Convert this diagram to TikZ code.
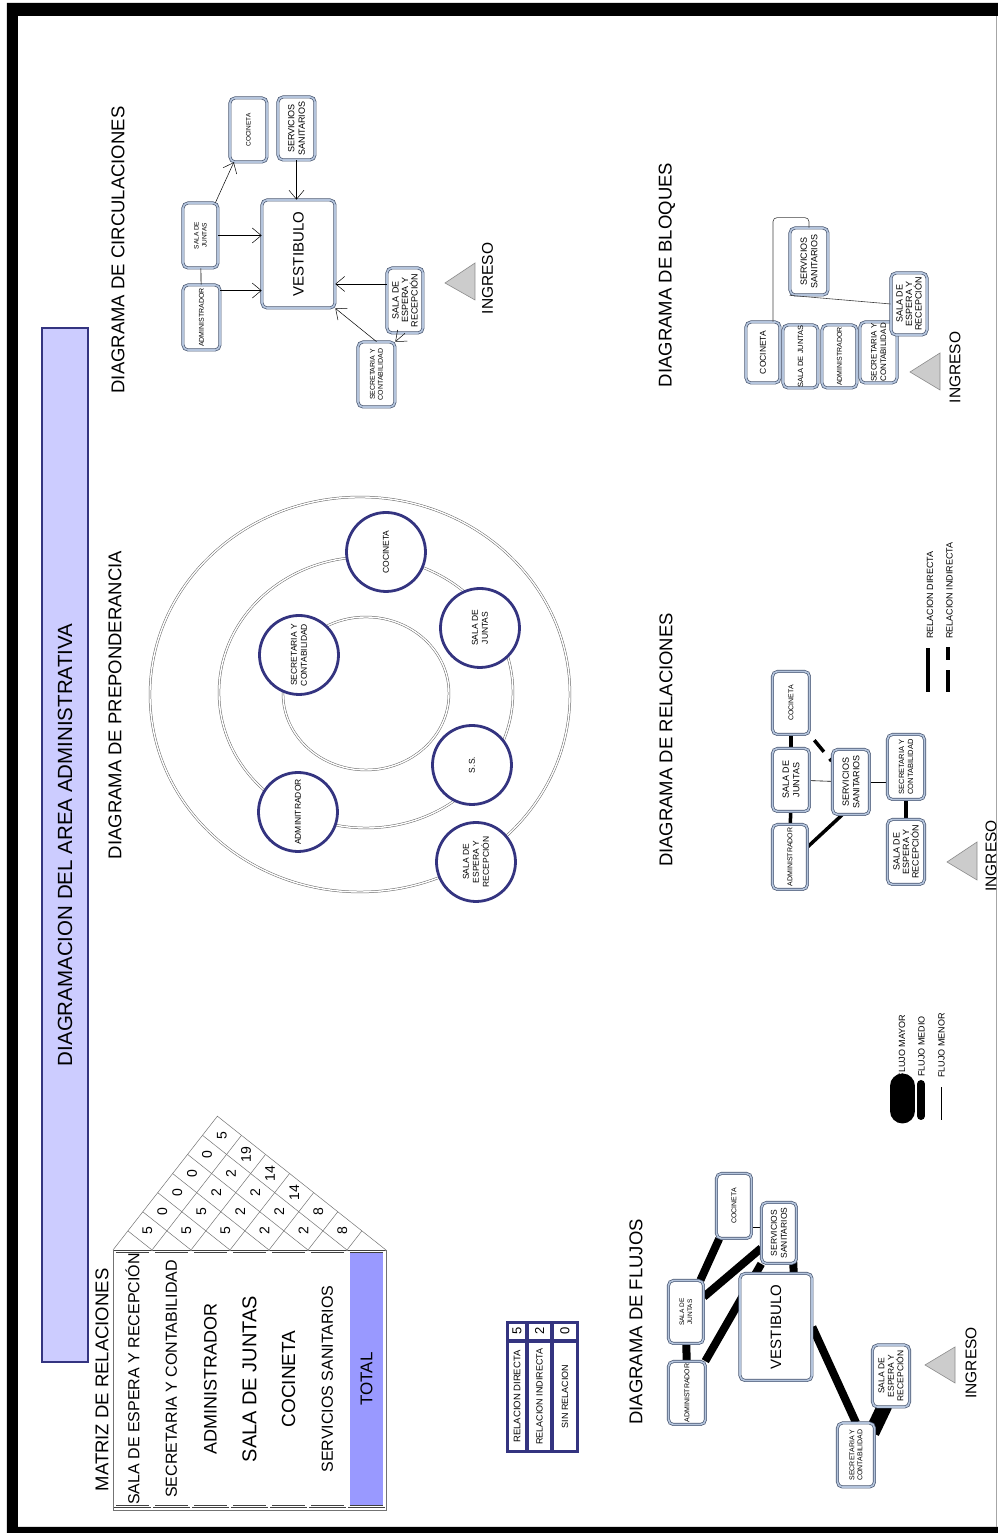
\documentclass[tikz,border=0pt]{standalone}
\usepackage{fontspec}
\setmainfont{Liberation Sans}
\usetikzlibrary{arrows.meta,calc}
\pgfdeclarelayer{fondo}
\pgfsetlayers{fondo,main}
\definecolor{azulosc}{RGB}{52,52,128}
\definecolor{lila}{RGB}{204,204,255}
\definecolor{lilatotal}{RGB}{153,153,255}
\definecolor{bordecaja}{RGB}{72,86,112}
\definecolor{bandacaja}{RGB}{180,196,220}
\newcommand{\tam}[2]{\fontsize{#1}{#2}\selectfont}

\begin{document}
\begin{tikzpicture}[x=1pt, y=1pt, rotate=90, transform shape,
    caja/.style 2 args={draw=bordecaja, double=bandacaja, double distance=1.6pt, line width=0.7pt, rounded corners=5pt, fill=white, align=center, inner sep=0pt, minimum width=#1, minimum height=#2},
    franja/.style={draw=black!75, double=white, double distance=1.2pt, line width=0.5pt, fill=white, minimum width=255pt, minimum height=35pt, inner sep=0pt},
    celda/.style 2 args={draw=azulosc, line width=0.6pt, fill=white, inner sep=0pt, minimum width=#1, minimum height=#2},
    circulo/.style={circle, draw=azulosc, line width=2.8pt, fill=white, minimum size=79pt, inner sep=0pt, align=center, font=\tam{8.5}{10}},
    titulo/.style={font=\tam{18.5}{20}},
    numero/.style={font=\tam{14}{14}, inner sep=0pt},
    reja/.style={black!55, line width=0.5pt},
    anillo/.style={draw=black!60, double=white, double distance=1.4pt, line width=0.5pt},
    ingreso/.style={fill=black!20, draw=black!45, line width=0.6pt},
    ingtxt/.style={font=\tam{15.5}{16}},
    flujo/.style={line width=8pt},
    directa/.style={line width=3.5pt},
    flecha/.style={-{Straight Barb[length=9pt,width=15pt]}, line width=0.5pt},
    bloque/.style={black!75, line width=0.6pt, rounded corners=4pt},
    leyenda/.style={anchor=west, inner sep=0pt, font=\tam{9}{10}}]
    \useasboundingbox (0,0) rectangle (1533,997);
    \fill[even odd rule] (0,-1) rectangle (1530,990) (6,-1) rectangle (1517,979);
    \draw[black!35, line width=0.8pt] (6,0.5) -- (1517,0.5);

    \node[draw=azulosc, fill=lila, line width=1.5pt, minimum width=1034pt, minimum height=46pt, font=\tam{20.5}{22}] (titulo) at (688,932) {DIAGRAMACION DEL AREA ADMINISTRATIVA};

    \node[titulo] (tmatriz) at (153,895) {MATRIZ DE RELACIONES};
    \draw[black!55, line width=0.6pt] (23,611) rectangle (283,884);
    \node[franja, font=\tam{16}{18}] (espera) at (154,864.5) {SALA DE ESPERA Y RECEPCIÓN};
    \node[franja, font=\tam{16}{18}] (secret) at (154,825.5) {SECRETARIA Y CONTABILIDAD};
    \node[franja, font=\tam{18}{20}] (admin) at (154,786.5) {ADMINISTRADOR};
    \node[franja, font=\tam{20}{22}] (juntas) at (154,747.5) {SALA DE JUNTAS};
    \node[franja, font=\tam{19}{21}] (cocina) at (154,708.5) {COCINETA};
    \node[franja, font=\tam{16}{18}] (sanit) at (154,669.5) {SERVICIOS SANITARIOS};
    \node[franja, fill=lilatotal, font=\tam{17}{19}] (total) at (154,630.5) {TOTAL};
    \draw[reja] (283,884) -- (416.8,779.6) -- (283,611);
    \draw[reja] (397.7,755.5) -- (283,845) -- (302.1,869.1);
    \draw[reja] (378.6,731.4) -- (283,806) -- (321.2,854.2);
    \draw[reja] (359.5,707.4) -- (283,767) -- (340.4,839.3);
    \draw[reja] (340.4,683.3) -- (283,728) -- (359.5,824.4);
    \draw[reja] (321.2,659.2) -- (283,689) -- (378.6,809.4);
    \draw[reja] (302.1,635.1) -- (283,650) -- (397.7,794.5);
    \node[numero] (n12) at (302.1,849.6) {5};
    \node[numero] (n13) at (321.2,834.7) {0};
    \node[numero] (n14) at (340.4,819.8) {0};
    \node[numero] (n15) at (359.5,804.9) {0};
    \node[numero] (n16) at (378.6,789.9) {0};
    \node[numero] (n17) at (397.7,775.0) {5};
    \node[numero] (n23) at (302.1,810.6) {5};
    \node[numero] (n24) at (321.2,795.7) {5};
    \node[numero] (n25) at (340.4,780.8) {2};
    \node[numero] (n26) at (359.5,765.9) {2};
    \node[numero] (n27) at (378.6,750.9) {19};
    \node[numero] (n34) at (302.1,771.6) {5};
    \node[numero] (n35) at (321.2,756.7) {2};
    \node[numero] (n36) at (340.4,741.8) {2};
    \node[numero] (n37) at (359.5,726.9) {14};
    \node[numero] (n45) at (302.1,732.6) {2};
    \node[numero] (n46) at (321.2,717.7) {2};
    \node[numero] (n47) at (340.4,702.8) {14};
    \node[numero] (n56) at (302.1,693.6) {2};
    \node[numero] (n57) at (321.2,678.7) {8};
    \node[numero] (n67) at (302.1,654.6) {8};

    \fill[azulosc] (80,418) rectangle (212,491);
    \node[celda={16pt}{17pt}, font=\tam{13}{13}] (vdir) at (202,480) {5};
    \node[celda={16pt}{22pt}, font=\tam{13}{13}] (vind) at (202,457.5) {2};
    \node[celda={16pt}{23pt}, font=\tam{13}{13}] (vsin) at (202,432) {0};
    \node[celda={108pt}{17pt}, font=\tam{9.5}{10}] (ldir) at (136.5,480) {RELACION DIRECTA};
    \node[celda={108pt}{22pt}, font=\tam{9}{10}] (lind) at (136.5,457.5) {RELACION INDIRECTA};
    \node[celda={108pt}{23pt}, font=\tam{9}{10}] (lsin) at (136.5,432) {SIN RELACION};

    \node[titulo] (tflujos) at (211,361) {DIAGRAMA DE FLUJOS};
    \node[caja={65pt}{35pt}, font=\tam{7}{8}] (fcoc) at (327,263) {COCINETA};
    \node[caja={61pt}{35pt}, font=\tam{8.5}{10}] (fss) at (300,218) {SERVICIOS\\SANITARIOS};
    \node[caja={63pt}{35pt}, font=\tam{6.5}{8}] (fsj) at (221,311) {SALA DE\\JUNTAS};
    \node[caja={63pt}{37pt}, font=\tam{7}{8}] (fadm) at (140,310) {ADMINISTRADOR};
    \node[caja={107pt}{72pt}, font=\tam{15}{17}] (fvest) at (206,221) {VESTIBULO};
    \node[caja={62pt}{37pt}, font=\tam{8.5}{9.5}] (fse) at (157,106) {SALA DE\\ESPERA Y\\RECEPCIÓN};
    \node[caja={64pt}{37pt}, font=\tam{7}{8}] (fsec) at (78,141) {SECRETARIA Y\\CONTABILIDAD};
    \filldraw[ingreso] (150,42) -- (168,72) -- (186,42) -- cycle;
    \node[ingtxt] (fing) at (170,26) {INGRESO};
    \begin{pgfonlayer}{fondo}
        \draw[flujo] (fcoc) -- (fsj);
        \draw[flujo] (fss) -- (fsj);
        \draw[flujo] (fss) -- (fadm);
        \draw[flujo] (fsj) -- (fadm);
        \draw[flujo] ($(fss)+(0,-13)$) -- ($(fvest)+(0,-20)$);
        \draw[flujo] (fvest.south) -- (fsec.east);
        \draw[line width=15pt] ($(fsec.east)+(-10,-16)$) -- ($(fse.west)+(2,6)$);
        \draw[line width=0.6pt] (fcoc.220) -- (fcoc.220 |- fss.north);
    \end{pgfonlayer}
    \node[leyenda] (lmayor) at (454.5,95) {FLUJO MAYOR};
    \node[leyenda] (lmedio) at (456,75.5) {FLUJO MEDIO};
    \node[leyenda] (lmenor) at (455,55.5) {FLUJO MENOR};
    \draw[line width=25pt, line cap=round] (422,94.5) -- (447,94.5);
    \draw[line width=8pt, line cap=round] (417,76) -- (449,76);
    \draw[line width=0.8pt] (413,56) -- (446,56);

    \node[titulo] (trel) at (793,331) {DIAGRAMA DE RELACIONES};
    \node[caja={63pt}{37pt}, font=\tam{7}{8}] (rcoc) at (830,206) {COCINETA};
    \node[caja={63pt}{37pt}, font=\tam{9}{10.5}] (rsj) at (753,206) {SALA DE\\JUNTAS};
    \node[caja={65pt}{35pt}, font=\tam{7}{8}] (radm) at (676,207) {ADMINISTRADOR};
    \node[caja={65pt}{37pt}, font=\tam{9}{10.5}] (rss) at (751,146) {SERVICIOS\\SANITARIOS};
    \node[caja={65pt}{37pt}, font=\tam{7.5}{9}] (rsec) at (766,91) {SECRETARIA Y\\CONTABILIDAD};
    \node[caja={65pt}{37pt}, font=\tam{9}{9.5}] (rse) at (681,91) {SALA DE\\ESPERA Y\\RECEPCIÓN};
    \filldraw[ingreso] (653,20) -- (671,50) -- (691,20) -- cycle;
    \node[ingtxt] (ring) at (677,6) {INGRESO};
    \begin{pgfonlayer}{fondo}
        \draw[directa] (rcoc) -- (rsj);
        \draw[directa] (rsj) -- (radm);
        \draw[line width=0.6pt] (rsj) -- (rss);
        \draw[line width=0.6pt] (rss.south) -- (rss.south |- rsec.north);
        \draw[directa] (rsec) -- (rse);
        \draw[directa] (radm.300) -- (rss.165);
        \draw[directa, dash pattern=on 0pt off 7pt on 15pt off 9pt on 3pt off 20pt] (rcoc.south west) -- (rss.43);
    \end{pgfonlayer}
    \draw[directa] (841,69) -- (885,69);
    \draw[directa, dash pattern=on 22pt off 10pt] (841,49) -- (886,49);
    \node[leyenda] (tdir) at (894,67) {RELACION DIRECTA};
    \node[leyenda] (tind) at (894,47.5) {RELACION INDIRECTA};

    \node[titulo] (tprep) at (828,882) {DIAGRAMA DE PREPONDERANCIA};
    \draw[anillo] (838.5,637) ellipse (197.5 and 210);
    \draw[anillo] (840.5,631) ellipse (135.5 and 147);
    \draw[anillo] (839.5,631) ellipse (76.5 and 83);
    \node[circulo] (pcoc) at (981,611) {COCINETA};
    \node[circulo] (psj) at (905,517) {SALA DE\\JUNTAS};
    \node[circulo] (psec) at (878,698) {SECRETARIA Y\\CONTABILIDAD};
    \node[circulo] (pss) at (768,525) {S.S.};
    \node[circulo] (padm) at (721,699) {ADMINITRADOR};
    \node[circulo] (pse) at (671,521) {SALA DE\\ESPERA Y\\RECEPCIÓN};

    \node[titulo] (tcirc) at (1283,879) {DIAGRAMA DE CIRCULACIONES};
    \node[caja={64pt}{37pt}, font=\tam{6.5}{8}] (ccoc) at (1403,748.5) {COCINETA};
    \node[caja={63pt}{37pt}, font=\tam{9}{10.5}] (css) at (1404.5,700.5) {SERVICIOS\\SANITARIOS};
    \node[caja={65pt}{35pt}, font=\tam{6.5}{8}] (csj) at (1297.5,796.5) {SALA DE\\JUNTAS};
    \node[caja={65pt}{37pt}, font=\tam{7}{8}] (cadm) at (1215.5,795.5) {ADMINISTRADOR};
    \node[caja={108pt}{73pt}, font=\tam{15}{17}] (cvest) at (1279,698.5) {VESTIBULO};
    \node[caja={65pt}{36pt}, font=\tam{9}{9.5}] (cse) at (1232.5,592) {SALA DE\\ESPERA Y\\RECEPCIÓN};
    \node[caja={65pt}{37pt}, font=\tam{7}{8}] (csec) at (1158.5,620.5) {SECRETARIA Y\\CONTABILIDAD};
    \filldraw[ingreso] (1233,522) -- (1250,552) -- (1270,522) -- cycle;
    \node[ingtxt] (cing) at (1254.5,509.5) {INGRESO};
    \draw[flecha] (csj) -- (ccoc);
    \draw[flecha] (css.west) -- (cvest.east |- css.west);
    \draw[flecha] (csj.south) -- (csj.south |- cvest.north);
    \draw[flecha] (cadm.325) -- (cadm.325 |- cvest.north);
    \draw[flecha] (cse.48) -- (cse.48 |- cvest.south);
    \draw[flecha] (csec.east) -- (cvest.south west);
    \draw[flecha] (cse.west) -- (csec.south east);
    \draw[line width=0.6pt] (cadm) -- (csj);

    \node[titulo] (tbloq) at (1258,330) {DIAGRAMA DE BLOQUES};
    \node[caja={61pt}{34pt}, font=\tam{8.5}{10}] (bcoc) at (1180.5,234) {COCINETA};
    \node[caja={63pt}{35pt}, font=\tam{7.5}{9}] (bsj) at (1176.5,196.5) {SALA DE JUNTAS};
    \node[caja={63pt}{35pt}, font=\tam{7}{8}] (badm) at (1176.5,157.5) {ADMINISTRADOR};
    \node[caja={61pt}{37pt}, font=\tam{8}{9.5}] (bsec) at (1180.5,118.5) {SECRETARIA Y\\CONTABILIDAD};
    \node[caja={62pt}{36pt}, font=\tam{9}{9.5}] (bse) at (1229,88) {SALA DE\\ESPERA Y\\RECEPCIÓN};
    \node[caja={67pt}{38pt}, font=\tam{9}{10.5}] (bss) at (1271.5,188) {SERVICIOS\\SANITARIOS};
    \filldraw[ingreso] (1143,57) -- (1161,87) -- (1180,57) -- cycle;
    \node[ingtxt] (bing) at (1165.5,42) {INGRESO};
    \draw[bloque] ($(bcoc.east)+(0,-10)$) -- ++(104,0) |- (bss.east);
    \draw[bloque] (bss.north west) -- (bse.north);
\end{tikzpicture}
\end{document}
